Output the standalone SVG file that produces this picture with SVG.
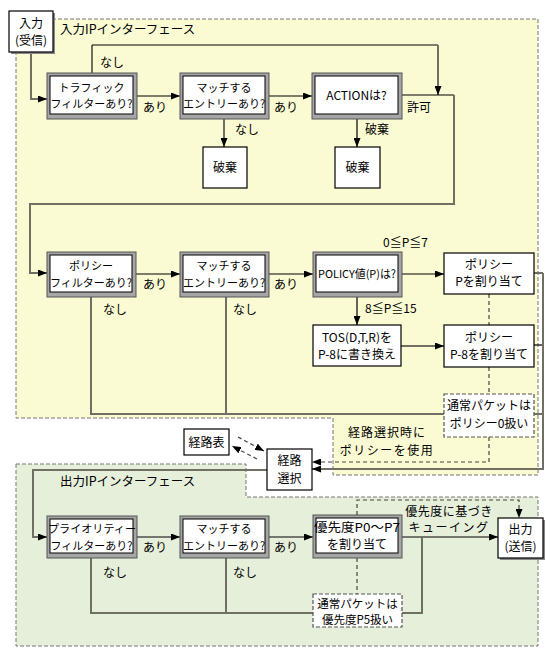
<svg xmlns="http://www.w3.org/2000/svg" width="556" height="659" viewBox="0 0 556 659">
<style>
text{font-family:"Noto Sans CJK JP","Noto Sans",sans-serif;fill:#000}
.t{font-size:11px;text-anchor:middle}
.l{font-size:12px}
.lc{font-size:12px;text-anchor:middle}
.reg{stroke:#777;stroke-width:1;stroke-dasharray:4,2}
.dbo{fill:#a6a6a6;stroke:#555;stroke-width:1}
.dbi{fill:#fff;stroke:#000;stroke-width:1}
.box{fill:#fff;stroke:#000;stroke-width:1.2}
.shd{fill:#888}
.dbox{fill:#fff;stroke:#555;stroke-width:1.2;stroke-dasharray:4,2}
.k{fill:none;stroke:#000;stroke-width:1.2}
.g{fill:none;stroke:#6f6f64;stroke-width:2}
.d{fill:none;stroke:#444;stroke-width:1.2;stroke-dasharray:4,3}
</style>
<defs>
<marker id="ah" markerUnits="userSpaceOnUse" markerWidth="9" markerHeight="7" refX="9" refY="3.5" orient="auto">
<path d="M0,0 L9,3.5 L0,7 z" fill="#000"/>
</marker>
</defs>
<rect x="0" y="0" width="556" height="659" fill="#fff"/>
<g id="regions">
<path class="reg" fill="#fbfbd3" d="M16,19 H538 V475 H333 V418 H16 Z"/>
<path class="reg" fill="#e6efda" d="M16,464 H246 V497 H538 V646 H16 Z"/>
<text class="l" x="60" y="34" style="font-size:12.5px">入力IPインターフェース</text>
<text class="l" x="60" y="486" style="font-size:12.5px">出力IPインターフェース</text>
</g>
<g id="connectors">
<path class="g" d="M31,52 V99 H47" marker-end="url(#ah)"/>
<path class="g" d="M92,73 V45"/>
<path class="k" d="M92,45 H438"/>
<path class="g" d="M438,45 V95" marker-end="url(#ah)"/>
<path class="k" d="M137,96 H180" marker-end="url(#ah)"/>
<path class="k" d="M269,96 H312" marker-end="url(#ah)"/>
<path class="g" d="M224,119 V147" marker-end="url(#ah)"/>
<path class="k" d="M357,119 V147" marker-end="url(#ah)"/>
<path class="k" d="M402,95 H454"/>
<path class="g" d="M454,95 V204 H30 V273 H47" marker-end="url(#ah)"/>
<path class="k" d="M136,274 H180" marker-end="url(#ah)"/>
<path class="k" d="M269,274 H313" marker-end="url(#ah)"/>
<path class="k" d="M402,274 H444" marker-end="url(#ah)"/>
<path class="k" d="M357,297 V325" marker-end="url(#ah)"/>
<path class="g" d="M401,346 H444" marker-end="url(#ah)"/>
<path class="g" d="M91,297 V414 H445"/>
<path class="g" d="M226,297 V414"/>
<path class="g" d="M534,273 H543"/>
<path class="k" d="M534,345 H543"/>
<path class="g" d="M534,414 H543"/>
<path class="g" d="M543,273 V469 H312" marker-end="url(#ah)"/>
<path class="d" d="M489,294 V325"/>
<path class="d" d="M489,367 V394"/>
<path class="d" d="M489,437 V462 H312" marker-end="url(#ah)"/>
<path class="d" d="M238,437 L264,451" marker-end="url(#ah)"/>
<path class="d" d="M257,459 L232,446" marker-end="url(#ah)"/>
<path class="g" d="M267,470 H33 V537 H47" marker-end="url(#ah)"/>
<path class="k" d="M137,537 H180" marker-end="url(#ah)"/>
<path class="k" d="M269,537 H313" marker-end="url(#ah)"/>
<path class="k" d="M402,537 H498" marker-end="url(#ah)"/>
<path class="g" d="M91,558 V613 H313"/>
<path class="g" d="M226,558 V613"/>
<path class="g" d="M402,613 H422 V537"/>
<path class="d" d="M357,558 V594"/>
<path class="d" d="M357,515 V500 H519 V518" marker-end="url(#ah)"/>
<text class="l" x="100" y="67">なし</text>
<text class="l" x="143" y="112">あり</text>
<text class="l" x="274" y="112">あり</text>
<text class="l" x="407" y="112">許可</text>
<text class="l" x="235" y="134">なし</text>
<text class="l" x="365" y="134">破棄</text>
<text class="l" x="143" y="289">あり</text>
<text class="l" x="274" y="289">あり</text>
<text class="l" x="383" y="247">0≦P≦7</text>
<text class="l" x="365" y="313">8≦P≦15</text>
<text class="l" x="103" y="314">なし</text>
<text class="l" x="233" y="314">なし</text>
<text class="lc" x="387" y="437" letter-spacing="1">経路選択時に</text>
<text class="lc" x="387" y="455" letter-spacing="1.5">ポリシーを使用</text>
<text class="lc" x="449" y="516" letter-spacing="0.5">優先度に基づき</text>
<text class="lc" x="449" y="532" letter-spacing="1.5">キューイング</text>
<text class="l" x="143" y="552">あり</text>
<text class="l" x="274" y="552">あり</text>
<text class="l" x="103" y="577">なし</text>
<text class="l" x="233" y="577">なし</text>
</g>
<g id="in">
<rect class="shd" x="11" y="13" width="44" height="41"/>
<rect class="box" x="9" y="11" width="44" height="41"/>
<text class="lc" x="31" y="28">入力</text>
<text class="lc" x="31" y="45">(受信)</text>
</g>
<g id="traffic">
<rect class="dbo" x="47" y="73" width="90" height="46"/>
<rect class="dbi" x="50" y="76" width="83" height="38"/>
<text class="t" x="91.5" y="92">トラフィック</text>
<text class="t" x="91.5" y="108">フィルターあり?</text>
</g>
<g id="match1">
<rect class="dbo" x="180" y="73" width="89" height="46"/>
<rect class="dbi" x="183" y="76" width="82" height="38"/>
<text class="t" x="224" y="92">マッチする</text>
<text class="t" x="224" y="108">エントリーあり?</text>
</g>
<g id="action">
<rect class="dbo" x="312" y="73" width="90" height="46"/>
<rect class="dbi" x="315" y="76" width="83" height="38"/>
<text class="t" x="356.5" y="100" style="font-size:12px">ACTIONは?</text>
</g>
<g id="discard1">
<rect class="box" x="203" y="147" width="44" height="41"/>
<text class="lc" x="225" y="172">破棄</text>
</g>
<g id="discard2">
<rect class="box" x="335" y="147" width="45" height="41"/>
<text class="lc" x="357.5" y="172">破棄</text>
</g>
<g id="policyfilter">
<rect class="dbo" x="47" y="252" width="89" height="45"/>
<rect class="dbi" x="50" y="255" width="82" height="37"/>
<text class="t" x="91" y="270">ポリシー</text>
<text class="t" x="91" y="287">フィルターあり?</text>
</g>
<g id="match2">
<rect class="dbo" x="180" y="252" width="89" height="45"/>
<rect class="dbi" x="183" y="255" width="82" height="37"/>
<text class="t" x="224" y="270">マッチする</text>
<text class="t" x="224" y="287">エントリーあり?</text>
</g>
<g id="policyval">
<rect class="dbo" x="313" y="252" width="89" height="45"/>
<rect class="dbi" x="316" y="255" width="82" height="37"/>
<text class="t" x="357" y="278" textLength="78" lengthAdjust="spacingAndGlyphs">POLICY値(P)は?</text>
</g>
<g id="tos">
<rect class="box" x="313" y="325" width="88" height="41"/>
<text class="lc" x="357" y="342">TOS(D,T,R)を</text>
<text class="lc" x="357" y="359">P-8に書き換え</text>
</g>
<g id="assignP">
<rect class="box" x="444" y="253" width="90" height="41"/>
<text class="lc" x="489" y="269">ポリシー</text>
<text class="lc" x="489" y="286">Pを割り当て</text>
</g>
<g id="assignP8">
<rect class="box" x="444" y="325" width="90" height="42"/>
<text class="lc" x="489" y="342">ポリシー</text>
<text class="lc" x="489" y="359">P-8を割り当て</text>
</g>
<g id="normal0">
<rect class="dbox" x="444" y="394" width="90" height="43"/>
<text class="lc" x="489" y="410">通常パケットは</text>
<text class="lc" x="489" y="428">ポリシー0扱い</text>
</g>
<g id="routetable">
<rect class="box" x="184" y="429" width="45" height="26"/>
<text class="lc" x="206.5" y="446.5">経路表</text>
</g>
<g id="routesel">
<rect class="box" x="267" y="449" width="45" height="41"/>
<text class="lc" x="289.5" y="465">経路</text>
<text class="lc" x="289.5" y="483">選択</text>
</g>
<g id="priofilter">
<rect class="dbo" x="47" y="516" width="90" height="42"/>
<rect class="dbi" x="50" y="519" width="83" height="34"/>
<text class="t" x="92" y="533" textLength="88" lengthAdjust="spacingAndGlyphs">プライオリティー</text>
<text class="t" x="91.5" y="550">フィルターあり?</text>
</g>
<g id="match3">
<rect class="dbo" x="180" y="516" width="89" height="42"/>
<rect class="dbi" x="183" y="519" width="82" height="34"/>
<text class="t" x="224" y="533">マッチする</text>
<text class="t" x="224" y="550">エントリーあり?</text>
</g>
<g id="prioassign">
<rect class="dbo" x="313" y="515" width="89" height="43"/>
<rect class="dbi" x="316" y="518" width="82" height="35"/>
<text class="t" x="357" y="532" textLength="86" lengthAdjust="spacingAndGlyphs" style="font-size:12px">優先度P0～P7</text>
<text class="t" x="357" y="549" style="font-size:12px">を割り当て</text>
</g>
<g id="normal5">
<rect class="dbox" x="313" y="594" width="89" height="33"/>
<text class="lc" x="357.5" y="608" style="font-size:11.5px">通常パケットは</text>
<text class="lc" x="357.5" y="624" style="font-size:11.5px">優先度P5扱い</text>
</g>
<g id="out">
<rect class="shd" x="500" y="520" width="45" height="40"/>
<rect class="box" x="498" y="518" width="45" height="40"/>
<text class="lc" x="520.5" y="534">出力</text>
<text class="lc" x="520.5" y="551">(送信)</text>
</g>
</svg>
